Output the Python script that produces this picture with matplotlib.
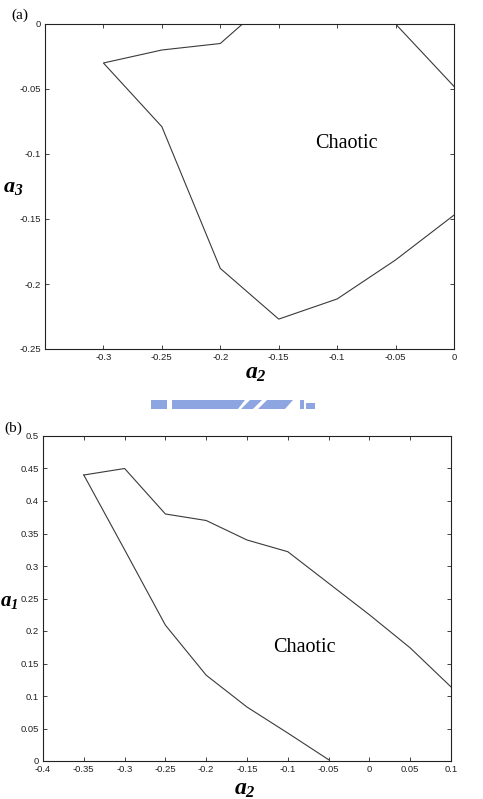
import numpy as np
import matplotlib.pyplot as plt
from matplotlib.patches import Polygon

# (a) boundary in the (a2, a3) plane
a_main_x = [-0.181, -0.2, -0.25, -0.3, -0.25, -0.2, -0.15, -0.1, -0.05, 0.0]
a_main_y = [0.0, -0.015, -0.02, -0.03, -0.079, -0.188, -0.227, -0.2115, -0.1815, -0.147]
a_corner_x = [-0.05, 0.0]
a_corner_y = [0.0, -0.048]
a_xticks = [-0.3, -0.25, -0.2, -0.15, -0.1, -0.05, 0]
a_xticklabels = ["-0.3", "-0.25", "-0.2", "-0.15", "-0.1", "-0.05", "0"]
a_yticks = [0, -0.05, -0.1, -0.15, -0.2, -0.25]
a_yticklabels = ["0", "-0.05", "-0.1", "-0.15", "-0.2", "-0.25"]

# (b) boundary in the (a2, a1) plane
b_upper_x = [-0.35, -0.3, -0.25, -0.2, -0.15, -0.1, 0.0, 0.05, 0.1]
b_upper_y = [0.44, 0.45, 0.38, 0.37, 0.34, 0.322, 0.225, 0.174, 0.114]
b_lower_x = [-0.35, -0.3, -0.25, -0.2, -0.15, -0.1, -0.05]
b_lower_y = [0.44, 0.325, 0.209, 0.132, 0.083, 0.043, 0.002]
b_xticks = [-0.4, -0.35, -0.3, -0.25, -0.2, -0.15, -0.1, -0.05, 0, 0.05, 0.1]
b_xticklabels = ["-0.4", "-0.35", "-0.3", "-0.25", "-0.2", "-0.15", "-0.1", "-0.05", "0", "0.05", "0.1"]
b_yticks = [0, 0.05, 0.1, 0.15, 0.2, 0.25, 0.3, 0.35, 0.4, 0.45, 0.5]
b_yticklabels = ["0", "0.05", "0.1", "0.15", "0.2", "0.25", "0.3", "0.35", "0.4", "0.45", "0.5"]

# bold italic serif for the a_i labels
plt.rcParams["mathtext.fontset"] = "custom"
plt.rcParams["mathtext.it"] = "Liberation Serif:bold:italic"
plt.rcParams["mathtext.rm"] = "Liberation Serif:bold:italic"
plt.rcParams["mathtext.bf"] = "Liberation Serif:bold:italic"

W, H = 483, 799
fig = plt.figure(figsize=(W / 100, H / 100), dpi=100)
fig.patch.set_facecolor("white")

def fx(px):
    return px / W

def fy(py):
    return 1 - py / H

line_kw = dict(color="#3a3a3a", linewidth=0.8)

def style_axes(ax):
    for s in ax.spines.values():
        s.set_linewidth(0.8)
        s.set_color("#222222")
    ax.tick_params(direction="in", length=3, width=0.6, top=True, right=True,
                   pad=3, colors="#222222")
    for lbl in ax.get_xticklabels() + ax.get_yticklabels():
        lbl.set_fontfamily("Liberation Sans")
        lbl.set_fontsize(6.8)

# ---- panel (a)
ax1 = fig.add_axes([fx(45), fy(349), fx(454 - 45), (349 - 24) / H])
ax1.plot(a_main_x, a_main_y, **line_kw)
ax1.plot(a_corner_x, a_corner_y, **line_kw)
ax1.set_xlim(-0.35, 0)
ax1.set_ylim(-0.25, 0)
ax1.set_xticks(a_xticks)
ax1.set_xticklabels(a_xticklabels)
ax1.set_yticks(a_yticks)
ax1.set_yticklabels(a_yticklabels)
style_axes(ax1)
ax1.text(-0.092, -0.092, "Chaotic", family="Liberation Serif", size=14.5,
         ha="center", va="center")

fig.text(fx(20), fy(15), "(a)", family="Liberation Serif", size=11, ha="center", va="center")
fig.text(fx(3), fy(187), "$a_3$", ha="left", va="center", size=16)
fig.text(fx(256), fy(372), "$a_2$", ha="center", va="center", size=17)

# ---- panel (b)
ax2 = fig.add_axes([fx(43), fy(761), fx(451 - 43), (761 - 436) / H])
ax2.plot(b_upper_x, b_upper_y, **line_kw)
ax2.plot(b_lower_x, b_lower_y, **line_kw)
ax2.set_xlim(-0.4, 0.1)
ax2.set_ylim(0, 0.5)
ax2.set_xticks(b_xticks)
ax2.set_xticklabels(b_xticklabels)
ax2.set_yticks(b_yticks)
ax2.set_yticklabels(b_yticklabels)
style_axes(ax2)
ax2.text(-0.08, 0.175, "Chaotic", family="Liberation Serif", size=14.5,
         ha="center", va="center")

fig.text(fx(13), fy(428), "(b)", family="Liberation Serif", size=11, ha="center", va="center")
fig.text(fx(0), fy(601), "$a_1$", ha="left", va="center", size=15)
fig.text(fx(245), fy(788), "$a_2$", ha="center", va="center", size=17)

# faint blue scan mark between the panels
blue = "#8da6e2"
shapes = [
    [(151, 400), (167, 400), (167, 409), (151, 409)],
    [(172, 400), (245, 400), (238, 409), (172, 409)],
    [(250, 400), (262, 400), (253, 409), (241, 409)],
    [(267, 400), (293, 400), (285, 409), (258, 409)],
    [(300, 400), (304, 400), (304, 409), (300, 409)],
    [(306, 403), (315, 403), (315, 409), (306, 409)],
]
for pts in shapes:
    fig.patches.append(Polygon([(fx(x), fy(y)) for x, y in pts], closed=True,
                               transform=fig.transFigure, facecolor=blue,
                               edgecolor="none", figure=fig))

plt.savefig("out.png", dpi=100)
